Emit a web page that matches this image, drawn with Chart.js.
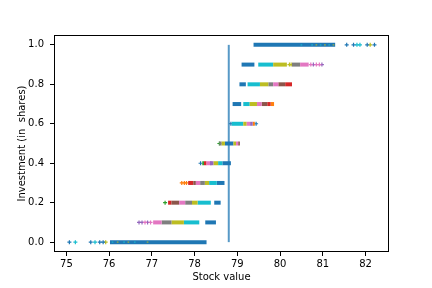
<!DOCTYPE html>
<html>
<head>
<meta charset="utf-8">
<script src="https://cdn.jsdelivr.net/npm/chart.js@4"></script>
<style>
  html, body { margin: 0; padding: 0; background: #fff; }
</style>
</head>
<body>
<canvas id="chart" width="432" height="288"></canvas>
<script>
// Axis ticks
const xTicks = [75, 76, 77, 78, 79, 80, 81, 82];
const yTicks = [0, 0.2, 0.4, 0.6, 0.8, 1.0];
// Threshold stock value (vertical line)
const thresholdX = 78.8;

// Dense runs of points: [investment, first stock value, last stock value]
const blueRuns = [[0, 76.02, 78.28], [0.1, 78.25, 78.5], [0.2, 78.46, 78.61], [0.3, 78.52, 78.7], [0.4, 78.65, 78.85], [0.5, 78.71, 78.91], [0.7, 78.89, 79.09], [0.8, 79.05, 79.2], [0.9, 79.1, 79.4], [1.0, 79.38, 81.29]];
const cyanRuns = [[0.1, 77.75, 78.11], [0.2, 78.07, 78.38], [0.3, 78.34, 78.52], [0.4, 78.55, 78.65], [0.6, 78.87, 79.14], [0.7, 79.14, 79.29], [0.8, 79.24, 79.53], [0.9, 79.49, 79.84]];
const oliveRuns = [[0.1, 77.46, 77.75], [0.2, 77.94, 78.07], [0.3, 78.24, 78.34], [0.4, 78.44, 78.55], [0.5, 78.63, 78.71], [0.5, 78.91, 78.97], [0.6, 79.14, 79.22], [0.7, 79.29, 79.46], [0.8, 79.53, 79.73], [0.9, 79.84, 80.16]];
const grayRuns = [[0.1, 77.23, 77.46], [0.2, 77.78, 77.94], [0.3, 78.13, 78.24], [0.5, 78.58, 78.63], [0.8, 79.73, 79.84], [0.9, 80.28, 80.47]];
const pinkRuns = [[0.1, 77.03, 77.23], [0.2, 77.64, 77.78], [0.3, 78.03, 78.13], [0.4, 78.28, 78.4], [0.5, 78.97, 79.02], [0.6, 79.22, 79.3], [0.7, 79.46, 79.57], [0.8, 79.84, 79.96], [0.9, 80.47, 80.67]];
const brownRuns = [[0.2, 77.46, 77.64], [0.3, 77.97, 78.03], [0.5, 79.02, 79.06], [0.7, 79.57, 79.7], [0.8, 79.96, 80.12]];
const purpleRuns = [[0.4, 78.36, 78.44], [0.6, 79.3, 79.36]];
const redRuns = [[0.2, 77.38, 77.46], [0.3, 77.85, 77.97], [0.4, 78.22, 78.28], [0.7, 79.7, 79.78], [0.8, 80.12, 80.28]];
const orangeRuns = [[0.6, 79.36, 79.41], [0.7, 79.78, 79.86]];
const greenRuns = [[0.4, 78.18, 78.22]];

// Sparse single points: [investment, stock value]
const blueDots = [[0, 75.07], [0, 75.57], [0, 75.78], [0, 75.86], [0.4, 78.14], [0.6, 78.85], [0.6, 79.44], [1.0, 81.56], [1.0, 81.72], [1.0, 82.04], [1.0, 82.21]];
const cyanDots = [[0, 75.21], [0, 75.67], [1.0, 81.8], [1.0, 81.87]];
const oliveDots = [[0, 75.92], [0.9, 80.22], [0.9, 80.26], [1.0, 82.11]];
const pinkDots = [[0.1, 76.84], [0.1, 76.97], [0.9, 80.72], [0.9, 80.85], [0.9, 80.92]];
const purpleDots = [[0.1, 76.7], [0.1, 76.77], [0.1, 76.9], [0.9, 80.78], [0.9, 80.98]];
const orangeDots = [[0.3, 77.7], [0.3, 77.76], [0.3, 77.81]];
const greenDots = [[0.2, 77.31], [0.5, 78.58]];
// speckles showing through the long blue runs
const cyanSpeckles = [[0, 76.08], [0, 76.35], [0, 76.6], [1.0, 80.5], [1.0, 80.75], [1.0, 80.95], [1.0, 81.15]];
const oliveSpeckles = [[0, 76.2], [0, 76.45], [0, 76.9], [1.0, 80.85], [1.0, 81.05], [1.0, 81.25]];

// tab10 colours
const palette = {
    blue: "#1f77b4", orange: "#ff7f0e", green: "#2ca02c", red: "#d62728", purple: "#9467bd",
    brown: "#8c564b", pink: "#e377c2", gray: "#7f7f7f", olive: "#bcbd22", cyan: "#17becf",
};

const runGroups = [
    ["purple", purpleRuns], ["pink", pinkRuns], ["gray", grayRuns], ["brown", brownRuns],
    ["red", redRuns], ["orange", orangeRuns], ["green", greenRuns],
    ["olive", oliveRuns], ["cyan", cyanRuns], ["blue", blueRuns],
];
const dotGroups = [
    ["blue", blueDots], ["cyan", cyanDots], ["olive", oliveDots], ["pink", pinkDots],
    ["purple", purpleDots], ["orange", orangeDots], ["green", greenDots],
];
const speckleGroups = [["cyan", cyanSpeckles], ["olive", oliveSpeckles]];

const datasets = [];
runGroups.forEach(([name, runs]) => {
    runs.forEach(([lvl, x1, x2]) => {
        datasets.push({
            data: [{ x: x1, y: lvl }, { x: x2, y: lvl }],
            showLine: true,
            borderColor: palette[name],
            borderWidth: 4,
            borderCapStyle: "butt",
            pointRadius: 0,
            order: 2,
        });
    });
});
dotGroups.forEach(([name, dots]) => {
    datasets.push({
        data: dots.map(([lvl, x]) => ({ x: x, y: lvl })),
        showLine: false,
        pointStyle: "cross",
        pointRadius: 2,
        borderWidth: 1.2,
        borderColor: palette[name],
        backgroundColor: palette[name],
        order: 3,
    });
});
// faint speckles drawn over the blue runs
speckleGroups.forEach(([name, dots]) => {
    datasets.push({
        data: dots.map(([lvl, x]) => ({ x: x, y: lvl })),
        showLine: false,
        pointStyle: "rect",
        pointRadius: 1.2,
        borderWidth: 0,
        backgroundColor: palette[name] + "99",
        order: 1,
    });
});
// threshold line
datasets.push({
    data: [{ x: thresholdX, y: 0 }, { x: thresholdX, y: 1 }],
    showLine: true,
    borderColor: "rgba(31, 119, 180, 0.75)",
    borderWidth: 2,
    pointRadius: 0,
    order: 0,
});

// Full box around the plot area, like matplotlib spines
const framePlugin = {
    id: "frame",
    afterDraw(chart) {
        const { ctx, chartArea: a } = chart;
        ctx.save();
        ctx.strokeStyle = "#000";
        ctx.lineWidth = 1;
        ctx.strokeRect(Math.round(a.left) + 0.5, Math.round(a.top) + 0.5,
            Math.round(a.right - a.left) - 1, Math.round(a.bottom - a.top) - 1);
        ctx.restore();
    },
};

Chart.defaults.font.family = "DejaVu Sans";
Chart.defaults.font.size = 10;
Chart.defaults.color = "#000";

const ctx = document.getElementById("chart").getContext("2d");
new Chart(ctx, {
    type: "scatter",
    data: { datasets: datasets },
    options: {
        responsive: false,
        animation: false,
        layout: { padding: { top: 35, right: 43, left: 0, bottom: 0 } },
        plugins: { legend: { display: false }, tooltip: { enabled: false } },
        scales: {
            x: {
                type: "linear",
                min: 74.71,
                max: 82.55,
                afterBuildTicks: (s) => { s.ticks = xTicks.map((v) => ({ value: v })); },
                afterFit: (s) => { s.height = 36; },
                border: { display: false },
                grid: { drawOnChartArea: false, tickLength: 4, color: "#000", tickWidth: 1 },
                ticks: { padding: 2, maxRotation: 0, callback: (v) => String(v) },
                title: { display: true, text: "Stock value", padding: { top: 0, bottom: 5 } },
            },
            y: {
                type: "linear",
                min: -0.05,
                max: 1.05,
                afterBuildTicks: (s) => { s.ticks = yTicks.map((v) => ({ value: v })); },
                afterFit: (s) => { s.width = 54; },
                border: { display: false },
                grid: { drawOnChartArea: false, tickLength: 4, color: "#000", tickWidth: 1 },
                ticks: { padding: 6, callback: (v) => v.toFixed(1) },
                title: { display: true, text: "Investment (in  shares)", padding: { top: 16, bottom: 0 } },
            },
        },
    },
    plugins: [framePlugin],
});
</script>
</body>
</html>
